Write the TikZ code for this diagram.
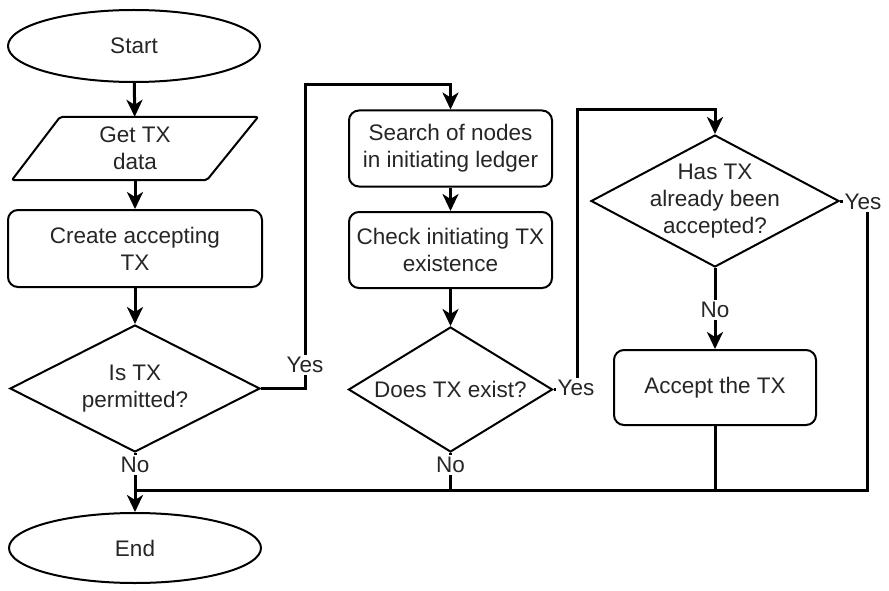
\documentclass[tikz,border=0pt]{standalone}
\usepackage{fontspec}
\setmainfont{Liberation Sans}
\usetikzlibrary{shapes.geometric, arrows.meta}
\begin{document}
\begin{tikzpicture}[x=1pt, y=-1pt,
  font=\fontsize{22.5}{27}\selectfont,
  every node/.style={align=center, inner sep=0pt, text=black!85},
  border/.style={draw=black, line width=2pt},
  term/.style={border, ellipse, minimum width=252pt, minimum height=72pt},
  proc/.style={border, rounded corners=10pt, minimum width=203pt, minimum height=76pt},
  decision/.style={border, diamond},
  link/.style={line width=3pt},
  flow/.style={link, -{Stealth[length=17pt, width=16pt, inset=5pt]}},
  lbl/.style={fill=white, inner sep=2pt}]

  \fill[white] (0,0) rectangle (889,591);
  \useasboundingbox (0,0) rectangle (889,591);

  % left column
  \node[term] (start) at (134,46) {Start};
  \draw[border, rounded corners=2pt] (60,117) -- (258,117) -- (207,180) -- (12,180) -- cycle;
  \node[minimum width=150pt, minimum height=63pt] (get) at (135,148.5) {Get TX\\data};
  \node[proc, minimum width=254pt, minimum height=77pt] (create) at (135,248.5) {Create accepting\\TX};
  \node[decision, minimum width=250pt, minimum height=127pt] (d1) at (135,388.5) {};
  \node (d1text) at (d1) {Is TX\\permitted?};
  \node[term, minimum height=70pt] (end) at (135,548) {End};

  % middle column
  \node[proc] (search) at (450.5,148.5) {Search of nodes\\in initiating ledger};
  \node[proc] (check) at (450.5,250) {Check initiating TX\\existence};
  \node[decision, minimum width=204pt, minimum height=125pt] (d2) at (450.5,389.5) {};
  \node (d2text) at (d2) {Does TX exist?};

  % right column
  \node[decision, minimum width=248pt, minimum height=132pt] (d3) at (715,201) {};
  \node (d3text) at (d3) {Has TX\\already been\\accepted?};
  \node[proc, minimum width=202pt, minimum height=75pt] (accept) at (715,387.5) {Accept the TX};

  % routing points
  \coordinate (j1) at (305,85);
  \coordinate (j2) at (577,110);
  \coordinate (j3) at (867,490);

  % connectors
  \draw[flow] (start) -- (get);
  \draw[flow] (get) -- (create);
  \draw[flow] (create) -- (d1);
  \draw[flow] (d1.east) -| (j1) -| (search.north);
  \draw[flow] (search) -- (check);
  \draw[flow] (check) -- (d2);
  \draw[flow] (d2.east) -| (j2) -| (d3.north);
  \draw[flow] (d3) -- (accept);
  \draw[link] (d3.east) -| (j3) -- (d1.south |- j3);
  \draw[link] (accept.south) -- (accept.south |- j3);
  \draw[link] (d2.south) -- (d2.south |- j3);
  \draw[flow] (d1.south) -- (end);

  % branch labels
  \node[lbl] (yes1) at (305,365) {Yes};
  \node[lbl] (yes2) at (576,388) {Yes};
  \node[lbl] (yes3) at (863,202) {Yes};
  \node[lbl] (no1) at (135,465) {No};
  \node[lbl] (no2) at (450.5,465) {No};
  \node[lbl] (no3) at (715,310) {No};
\end{tikzpicture}
\end{document}
